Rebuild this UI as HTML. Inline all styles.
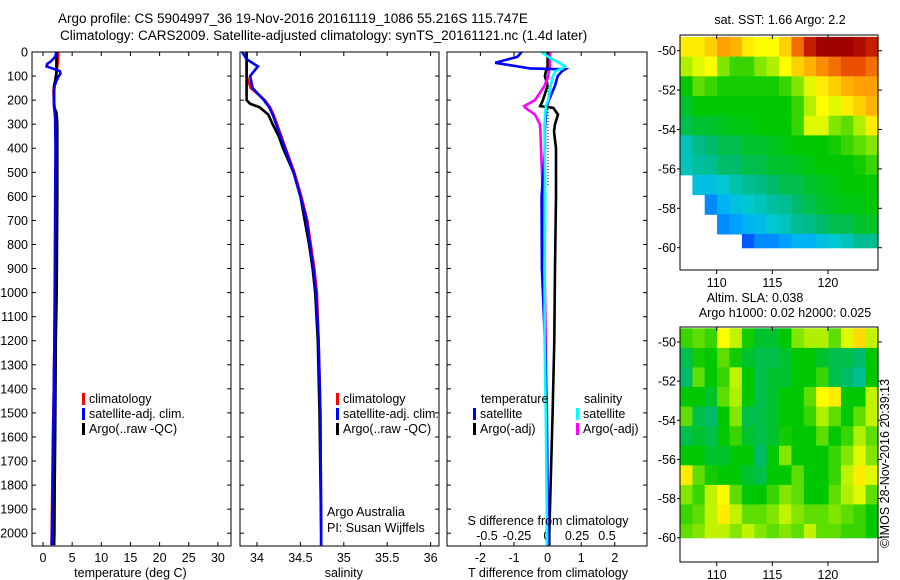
<!DOCTYPE html>
<html><head><meta charset="utf-8"><style>
html,body{margin:0;padding:0;background:#fff;}
svg{display:block;font-family:"Liberation Sans",sans-serif;}
text{font-size:12.5px;fill:#000;}
</style></head><body>
<svg id="fig" width="900" height="580" viewBox="0 0 900 580">
<text x="58" y="23" style="font-size:13.5px">Argo profile: CS 5904997_36 19-Nov-2016 20161119_1086 55.216S 115.747E</text>
<text x="60" y="40" style="font-size:13.5px">Climatology: CARS2009. Satellite-adjusted climatology: synTS_20161121.nc (1.4d later)</text>
<g id="g"></g>
</svg>
<script>
// ---------- data ----------
const tempDepths = [0,20,40,50,60,70,80,90,100,120,140,160,200,230,250,280,300,400,600,800,1000,1200,1400,1600,1800,2000,2050];
const tempClim   = [2.6,2.6,2.55,2.5,2.45,2.4,2.35,2.3,2.25,2.1,1.9,1.8,1.85,2.0,2.1,2.15,2.2,2.2,2.15,2.1,2.05,1.95,1.85,1.7,1.6,1.5,1.45];
const tempSat    = [2.3,2.1,1.3,0.7,0.6,1.8,2.9,3.0,2.7,2.3,2.0,1.9,1.85,1.9,2.0,2.1,2.1,2.15,2.1,2.05,2.0,1.95,1.85,1.75,1.65,1.55,1.5];
const tempArgo   = [2.3,2.3,2.3,2.3,2.3,2.3,2.3,2.3,2.2,2.1,1.9,1.9,1.9,1.9,2.3,2.4,2.45,2.45,2.45,2.4,2.35,2.2,2.15,2.1,2.0,1.95,1.9];

const salDepths = [0,30,60,100,150,200,215,230,260,300,350,400,500,600,700,800,900,1000,1200,1500,2000,2050];
const salClim   = [33.88,33.88,33.88,33.88,33.93,34.09,34.12,34.15,34.19,34.23,34.28,34.33,34.43,34.51,34.58,34.62,34.66,34.69,34.71,34.73,34.74,34.74];
const salSat    = [33.83,33.88,34.01,33.92,33.95,34.08,34.11,34.14,34.18,34.22,34.27,34.32,34.42,34.5,34.57,34.61,34.65,34.68,34.71,34.73,34.74,34.74];
const salArgo   = [33.88,33.88,33.88,33.88,33.88,33.88,33.92,34.03,34.13,34.18,34.25,34.30,34.42,34.5,34.55,34.6,34.64,34.67,34.70,34.72,34.74,34.74];

const diffDepths = [0,20,45,60,68,72,80,100,140,200,225,232,260,300,330,400,600,900,1200,1500,2000,2050];
const dTSat  = [-0.77,-0.9,-1.56,-0.9,-0.52,0.52,0.43,0.3,0.22,0.04,-0.02,-0.04,-0.05,-0.07,-0.08,-0.08,-0.18,-0.17,-0.08,-0.02,0.01,0.01];
const dTArgo = [0,0,0,0,-0.02,-0.03,-0.05,-0.08,0,-0.14,-0.22,0.17,0.31,0.22,0.19,0.25,0.25,0.22,0.2,0.15,0.05,0.05];
const dSSat  = [-0.045,0.01,0.1,0.15,0.13,0.11,0.07,0.05,0.03,0.01,-0.01,-0.01,-0.015,-0.02,-0.02,-0.02,-0.015,-0.02,-0.02,-0.01,0,0];
const dSArgo = [0.025,0.025,0.025,0.025,0.022,0.02,0.015,0.01,-0.02,-0.1,-0.19,-0.18,-0.1,-0.06,-0.055,-0.05,-0.035,-0.02,-0.01,-0.005,0,0];

const depthTicks = [0,100,200,300,400,500,600,700,800,900,1000,1100,1200,1300,1400,1500,1600,1700,1800,1900,2000];
const tempTicks = [0,5,10,15,20,25,30];
const salTicks = [34,34.5,35,35.5,36];
const salTickLabels = ["34","34.5","35","35.5","36"];
const dTTicks = [-2,-1,0,1,2];
const dSTicks = [-0.5,-0.25,0,0.25,0.5];
const dSTickLabels = ["-0.5","-0.25","0","0.25","0.5"];

const mapLons = [110,115,120];
const mapLats = [-50,-52,-54,-56,-58,-60];
const sstLatEdges = [-49.3,-50.3,-51.3,-52.3,-53.3,-54.3,-55.3,-56.3,-57.3,-58.3,-59.3,-60];
const slaLatEdges = [-49.3,-50.3,-51.3,-52.3,-53.3,-54.3,-55.3,-56.3,-57.3,-58.3,-59.3,-60];
const N = null;
const sstGrid = [
[0.72,0.72,0.75,0.8,0.78,0.72,0.7,0.7,0.75,0.85,0.95,1,1,1,0.98,0.95],
[0.65,0.68,0.7,0.62,0.58,0.58,0.62,0.65,0.7,0.75,0.78,0.82,0.85,0.88,0.88,0.85],
[0.55,0.6,0.58,0.56,0.56,0.56,0.56,0.56,0.58,0.62,0.68,0.72,0.75,0.78,0.8,0.8],
[0.52,0.55,0.55,0.55,0.55,0.55,0.55,0.55,0.55,0.58,0.65,0.7,0.68,0.72,0.75,0.78],
[0.5,0.52,0.52,0.53,0.54,0.54,0.55,0.55,0.55,0.58,0.68,0.68,0.62,0.6,0.65,0.72],
[0.42,0.46,0.48,0.5,0.5,0.52,0.52,0.53,0.54,0.55,0.55,0.55,0.56,0.58,0.6,0.62],
[0.42,0.44,0.45,0.48,0.48,0.5,0.5,0.52,0.52,0.53,0.54,0.55,0.55,0.55,0.56,0.58],
[N,0.38,0.38,0.4,0.43,0.45,0.46,0.48,0.5,0.5,0.52,0.53,0.54,0.55,0.55,0.55],
[N,N,0.3,0.35,0.38,0.4,0.42,0.44,0.45,0.48,0.5,0.52,0.53,0.54,0.54,0.55],
[N,N,N,0.3,0.32,0.35,0.37,0.4,0.42,0.45,0.46,0.48,0.5,0.5,0.52,0.52],
[N,N,N,N,N,0.25,0.3,0.3,0.32,0.35,0.35,0.38,0.4,0.42,0.45,0.45]];
const slaGrid = [
[0.58,0.6,0.58,0.7,0.66,0.56,0.52,0.52,0.55,0.62,0.65,0.65,0.6,0.68,0.74,0.66],
[0.5,0.56,0.55,0.6,0.56,0.52,0.5,0.5,0.52,0.55,0.55,0.52,0.5,0.5,0.48,0.55],
[0.48,0.6,0.55,0.58,0.66,0.55,0.5,0.52,0.52,0.55,0.55,0.58,0.5,0.48,0.45,0.55],
[0.55,0.55,0.52,0.6,0.65,0.55,0.5,0.52,0.55,0.55,0.6,0.7,0.72,0.55,0.55,0.66],
[0.6,0.5,0.48,0.55,0.62,0.5,0.5,0.52,0.55,0.55,0.58,0.65,0.6,0.55,0.6,0.66],
[0.5,0.52,0.5,0.55,0.58,0.52,0.5,0.52,0.56,0.55,0.55,0.6,0.55,0.58,0.65,0.6],
[0.55,0.55,0.52,0.52,0.55,0.55,0.48,0.55,0.62,0.55,0.55,0.55,0.58,0.62,0.68,0.62],
[0.72,0.6,0.56,0.55,0.55,0.52,0.5,0.55,0.55,0.6,0.55,0.55,0.58,0.66,0.72,0.68],
[0.62,0.58,0.66,0.7,0.6,0.55,0.55,0.58,0.62,0.6,0.55,0.55,0.6,0.65,0.68,0.6],
[0.58,0.6,0.66,0.72,0.66,0.6,0.6,0.62,0.66,0.62,0.6,0.6,0.62,0.6,0.58,0.55],
[0.6,0.62,0.66,0.66,0.62,0.66,0.62,0.6,0.62,0.6,0.66,0.6,0.6,0.58,0.58,0.55]];

// ---------- helpers ----------
const NS="http://www.w3.org/2000/svg";
const G=document.getElementById('g');
function mk(tag,attrs,parent){const e=document.createElementNS(NS,tag);for(const k in attrs)e.setAttribute(k,attrs[k]);(parent||G).appendChild(e);return e;}
const TOP=52, BOT=546;
const yD = d => TOP + d*0.2406;
const xT = t => 43 + t*5.83;
const xS = s => 257 + (s-34)*86.8;
const xDT = v => 547.6 + v*33.6;
const xDS = v => 547 + v*120;

const panels=[{x0:32,x1:231,name:'temperature-panel'},{x0:240,x1:439,name:'salinity-panel'},{x0:447,x1:647,name:'difference-panel'}];
panels.forEach((p,i)=>{
  const cp=mk('clipPath',{id:'cp'+i});
  mk('rect',{x:p.x0,y:TOP,width:p.x1-p.x0,height:BOT-TOP},cp);
});

function line(depths,vals,xf,color,clip,name,w){
  const pts=depths.map((d,i)=>xf(vals[i]).toFixed(1)+','+yD(d).toFixed(1)).join(' ');
  const e=mk('polyline',{points:pts,fill:'none',stroke:color,'stroke-width':w||2.6,'clip-path':'url(#'+clip+')'});
  
  
}
function txt(x,y,s,anchor,name,extra){
  const e=mk('text',Object.assign({x:x,y:y,'text-anchor':anchor||'start'},extra||{}));
  e.textContent=s;
  
  
  return e;
}

depthTicks.forEach(d=>{
  const y=yD(d);
  txt(28,y+4.5,String(d),'end','depth-tick-label');
  panels.forEach(p=>{
    mk('line',{x1:p.x0,y1:y,x2:p.x0+4,y2:y,stroke:'#000'});
    mk('line',{x1:p.x1,y1:y,x2:p.x1-4,y2:y,stroke:'#000'});
  });
});
function xticks(vals,labels,xf,p,ylab){
  vals.forEach((v,i)=>{
    const x=xf(v);
    mk('line',{x1:x,y1:BOT,x2:x,y2:BOT-4,stroke:'#000'});
    mk('line',{x1:x,y1:TOP,x2:x,y2:TOP+4,stroke:'#000'});
    txt(x,ylab,labels?labels[i]:String(v),'middle','x-tick-label');
  });
}
xticks(tempTicks,null,xT,panels[0],562);
xticks(salTicks,salTickLabels,xS,panels[1],562);
xticks(dTTicks,null,xDT,panels[2],562);
dSTicks.forEach((v,i)=>txt(xDS(v),540,dSTickLabels[i],'middle','s-diff-tick-label'));

line(tempDepths,tempClim,xT,'#f00','cp0','temp-climatology-line');
line(tempDepths,tempArgo,xT,'#000','cp0','temp-argo-line');
line(tempDepths,tempSat,xT,'#00f','cp0','temp-satellite-line');
line(salDepths,salClim,xS,'#f00','cp1','sal-climatology-line');
line(salDepths,salArgo,xS,'#000','cp1','sal-argo-line');
line(salDepths,salSat,xS,'#00f','cp1','sal-satellite-line');
mk('line',{x1:548,y1:yD(50),x2:548,y2:yD(560),stroke:'#000','stroke-dasharray':'1,2'});
line(diffDepths,dTArgo,xDT,'#000','cp2','tdiff-argo-line');
line(diffDepths,dSArgo,xDS,'#f0f','cp2','sdiff-argo-line');
line(diffDepths,dTSat,xDT,'#00f','cp2','tdiff-satellite-line');
line(diffDepths,dSSat,xDS,'#0ff','cp2','sdiff-satellite-line');

panels.forEach(p=>{
  const r=mk('rect',{x:p.x0,y:TOP,width:p.x1-p.x0,height:BOT-TOP,fill:'none',stroke:'#000','stroke-width':1});
  
  
});
txt(xT(15),577,'temperature (deg C)','middle','temperature-axis-title');
txt(xS(35),577,'salinity','middle','salinity-axis-title');
txt(548,577,'T difference from climatology','middle','tdiff-axis-title');
txt(548,525,'S difference from climatology','middle','sdiff-axis-title');
txt(327,516,'Argo Australia','start','credit-line-1');
txt(327,532,'PI: Susan Wijffels','start','credit-line-2');

function leg(x,y,color,label){
  mk('rect',{x:x,y:y-10,width:3,height:12,fill:color});
  txt(x+7,y,label,'start','legend-entry');
}
[[82,'climatology','#f00'],[82,'satellite-adj. clim.','#00f'],[82,'Argo(..raw -QC)','#000']].forEach((a,i)=>leg(a[0],403+i*15,a[2],a[1]));
[[336,'climatology','#f00'],[336,'satellite-adj. clim.','#00f'],[336,'Argo(..raw -QC)','#000']].forEach((a,i)=>leg(a[0],403+i*15,a[2],a[1]));
txt(481,403,'temperature','start','legend-header-temperature');
txt(584,403,'salinity','start','legend-header-salinity');
leg(473,418,'#00f','satellite'); leg(473,433,'#000','Argo(-adj)');
leg(576,418,'#0ff','satellite'); leg(576,433,'#f0f','Argo(-adj)');

const stops=[[0.1,[0,0,140]],[0.25,[0,90,255]],[0.33,[0,170,255]],[0.4,[0,200,210]],[0.47,[0,185,120]],[0.55,[0,200,0]],[0.62,[130,230,0]],[0.7,[255,255,0]],[0.8,[255,160,0]],[0.9,[230,60,0]],[1.0,[160,0,0]]];
function cmap(v){
  if(v<=stops[0][0])return 'rgb('+stops[0][1]+')';
  for(let i=1;i<stops.length;i++){
    if(v<=stops[i][0]){const a=stops[i-1],b=stops[i],t=(v-a[0])/(b[0]-a[0]);
      return 'rgb('+a[1].map((c,k)=>Math.round(c+(b[1][k]-c)*t)).join(',')+')';}
  }
  return 'rgb(160,0,0)';
}
function drawMap(box,grid,latEdges,name,latPx,lat50y){
  const lon0=106.7, lon1=124.5, x0=box.x, x1=box.x+box.w;
  const xL=lon=>x0+(lon-lon0)/(lon1-lon0)*(x1-x0);
  const yL=lat=>lat50y+(-50-lat)*latPx;
  const cols=grid[0].length, dl=(lon1-lon0)/cols;
  grid.forEach((row,r)=>row.forEach((v,c)=>{
    if(v===null)return;
    const xa=xL(lon0+c*dl), ya=yL(latEdges[r]), yb=yL(latEdges[r+1]);
    const e=mk('rect',{x:xa.toFixed(1),y:ya.toFixed(1),width:(xL(lon0+(c+1)*dl)-xa+0.6).toFixed(1),height:(yb-ya+0.6).toFixed(1),fill:cmap(v)});
    
    
  }));
  const f=mk('rect',{x:x0,y:box.y,width:box.w,height:box.h,fill:'none',stroke:'#000'});
  
  
  mapLons.forEach(l=>{const x=xL(l);
    mk('line',{x1:x,y1:box.y,x2:x,y2:box.y+4,stroke:'#000'});
    mk('line',{x1:x,y1:box.y+box.h,x2:x,y2:box.y+box.h+4,stroke:'#000'});
    txt(x,box.y+box.h+17,String(l),'middle',name+'-lon-label');});
  mapLats.forEach(l=>{const y=yL(l);
    mk('line',{x1:x1,y1:y,x2:x1+4,y2:y,stroke:'#000'});
    mk('line',{x1:x0,y1:y,x2:x0-3,y2:y,stroke:'#000'});
    txt(x0-4,y+4.5,String(l),'end',name+'-lat-label');});
}
drawMap({x:680,y:35,w:198,h:235},sstGrid,sstLatEdges,'sst-map',19.7,50.7);
drawMap({x:680,y:327,w:198,h:235},slaGrid,slaLatEdges,'sla-map',19.57,342);
txt(780,24,'sat. SST: 1.66 Argo: 2.2','middle','sst-map-title');
txt(755,302,'Altim. SLA: 0.038','middle','sla-map-title');
txt(785,317,'Argo h1000: 0.02 h2000: 0.025','middle','sla-map-subtitle');
txt(0,0,'©IMOS 28-Nov-2016 20:39:13','start','timestamp',{transform:'translate(889,548) rotate(-90)'});
</script>
</body></html>
